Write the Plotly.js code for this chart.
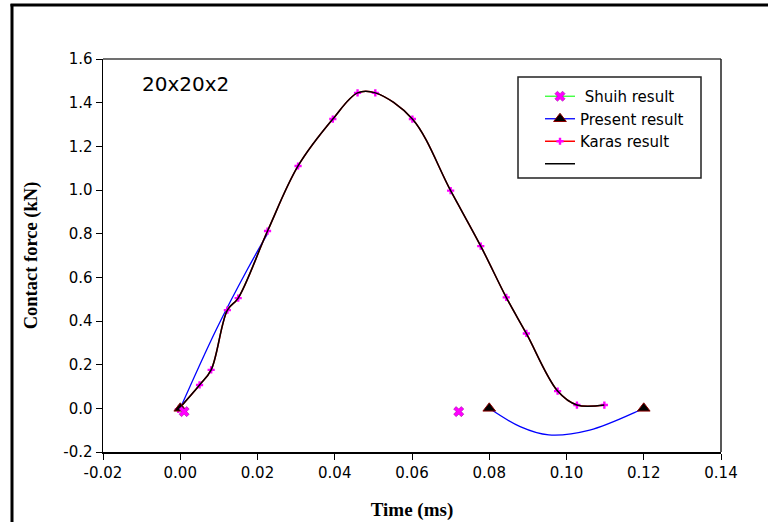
<!DOCTYPE html>
<html>
<head>
<meta charset="utf-8">
<script src="https://cdn.plot.ly/plotly-3.0.1.min.js"></script>
<style>
  html, body { margin: 0; padding: 0; background: #fff; }
  #chart { width: 769px; height: 522px; }
</style>
</head>
<body>
<div id="chart"></div>
<script>
// ---- data ----
var karasTime  = [-0.0005, 0.005, 0.008, 0.0122, 0.015, 0.0226, 0.0305, 0.0395, 0.0459, 0.0505, 0.0601, 0.0700, 0.0778, 0.0844, 0.0896, 0.0977, 0.1027, 0.1098];
var karasForce = [-0.005, 0.107, 0.176, 0.45, 0.505, 0.812, 1.11, 1.325, 1.445, 1.445, 1.325, 0.997, 0.743, 0.508, 0.343, 0.079, 0.015, 0.015];

var presentCurveTime  = [0, 0.0093, 0.0174, 0.0226, null, 0.08, 0.088, 0.0954, 0.106, 0.1187, 0.12];
var presentCurveForce = [0, 0.36, 0.637, 0.80, null, 0, -0.084, -0.122, -0.10, -0.011, 0];

var presentPtTime  = [0, null, 0.08, null, 0.12];
var presentPtForce = [0, null, 0, null, 0];

var shuihTime  = [0.001, null, 0.0721];
var shuihForce = [-0.015, null, -0.015];

var xTicks = [-0.02, 0.00, 0.02, 0.04, 0.06, 0.08, 0.10, 0.12, 0.14];
var xTickText = ['-0.02', '0.00', '0.02', '0.04', '0.06', '0.08', '0.10', '0.12', '0.14'];
var yTicks = [-0.2, 0.0, 0.2, 0.4, 0.6, 0.8, 1.0, 1.2, 1.4, 1.6];
var yTickText = ['-0.2', '0.0', '0.2', '0.4', '0.6', '0.8', '1.0', '1.2', '1.4', '1.6'];

// ---- plot geometry (px) ----
var W = 769, H = 522;
var L = 103, R = 721, T = 59, B = 452;
function px(xp) { return (xp - L) / (R - L); }
function py(yp) { return (B - yp) / (B - T); }

var SANS = 'DejaVu Sans, Liberation Sans, Arial, sans-serif';
var SERIF = 'Liberation Serif, Times New Roman, serif';

var traces = [
  { x: presentCurveTime, y: presentCurveForce, mode: 'lines', showlegend: false,
    line: { color: '#0000ff', width: 1.3, shape: 'spline', smoothing: 1 }, connectgaps: false, hoverinfo: 'skip' },
  { x: karasTime, y: karasForce, mode: 'lines+markers', name: 'Karas result', legendrank: 3,
    line: { color: '#ff0000', width: 1.5, shape: 'spline', smoothing: 1 },
    marker: { symbol: 'cross', size: 6, color: '#ff00ff' } },
  { x: karasTime, y: karasForce, mode: 'lines', name: ' ', legendrank: 4,
    line: { color: '#000000', width: 1.5, shape: 'spline', smoothing: 1 } },
  { x: presentPtTime, y: presentPtForce, mode: 'lines+markers', name: 'Present result', legendrank: 2,
    connectgaps: false,
    line: { color: '#0000ff', width: 1.3 },
    marker: { symbol: 'triangle-up', size: 11, color: '#000000', line: { color: '#8b0000', width: 1 } } },
  { x: shuihTime, y: shuihForce, mode: 'lines+markers', name: ' Shuih result', legendrank: 1,
    connectgaps: false,
    line: { color: '#33ff33', width: 1.3 },
    marker: { symbol: 'x', size: 9, color: '#ff00ff', line: { color: '#990099', width: 0.5 } } }
];

var layout = {
  width: W, height: H,
  margin: { l: L, r: W - R, t: T, b: H - B, pad: 0 },
  paper_bgcolor: '#ffffff', plot_bgcolor: '#ffffff',
  font: { family: SANS, color: '#000' },
  showlegend: true,
  legend: {
    x: px(540), y: py(80), xanchor: 'left', yanchor: 'top',
    bgcolor: 'rgba(0,0,0,0)', borderwidth: 0,
    font: { family: SANS, size: 15, color: '#000' },
    traceorder: 'normal', itemwidth: 30
  },
  xaxis: {
    range: [-0.02, 0.14], tickmode: 'array', tickvals: xTicks, ticktext: xTickText,
    ticks: 'outside', ticklen: 6, tickwidth: 1, tickcolor: '#000',
    showline: true, linecolor: '#000', linewidth: 1.5, showgrid: false, zeroline: false,
    tickfont: { size: 15, family: SANS },
    title: { text: 'Time (ms)', standoff: 22,
      font: { family: SERIF, size: 19, weight: 'bold' } }
  },
  yaxis: {
    range: [-0.2, 1.6], tickmode: 'array', tickvals: yTicks, ticktext: yTickText,
    ticks: 'outside', ticklen: 6, tickwidth: 1, tickcolor: '#000',
    showline: true, linecolor: '#000', linewidth: 1.5, showgrid: false, zeroline: false,
    tickfont: { size: 15, family: SANS },
    title: { text: 'Contact force (kN)', standoff: 20,
      font: { family: SERIF, size: 18.5, weight: 'bold' } }
  },
  annotations: [
    { xref: 'paper', yref: 'paper', x: px(140), y: py(84), xanchor: 'left', yanchor: 'middle',
      text: '20x20x2', showarrow: false,
      font: { family: SANS, size: 20, color: '#000' } }
  ],
  shapes: [
    // plot frame top and right
    { type: 'line', xref: 'paper', yref: 'paper', x0: 0, x1: 1, y0: 1, y1: 1, line: { color: '#707070', width: 2 } },
    { type: 'line', xref: 'paper', yref: 'paper', x0: 1, x1: 1, y0: 0, y1: 1, line: { color: '#202020', width: 1.5 } },
    // legend box
    { type: 'rect', xref: 'paper', yref: 'paper', x0: px(518), x1: px(701), y0: py(178), y1: py(77),
      line: { color: '#222', width: 1.5 }, fillcolor: 'rgba(0,0,0,0)' },
    // outer page border (left and top)
    { type: 'line', xref: 'paper', yref: 'paper', x0: px(12), x1: px(12), y0: py(4), y1: py(530), line: { color: '#000', width: 3 } },
    { type: 'line', xref: 'paper', yref: 'paper', x0: px(10.5), x1: px(768), y0: py(5), y1: py(5), line: { color: '#000', width: 3 } }
  ]
};

Plotly.newPlot('chart', traces, layout, { staticPlot: true, displayModeBar: false });
</script>
</body>
</html>
